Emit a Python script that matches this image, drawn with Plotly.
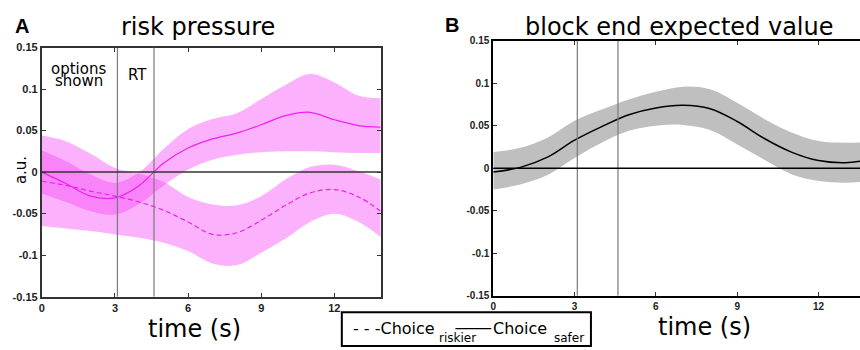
import plotly.graph_objects as go

# ---------------- data ----------------
time_s = [0, 1, 2, 3, 4, 5, 6, 7, 8, 9, 10, 11, 12, 13, 13.9]

# Panel A: risk pressure
safer_mean = [0.000, -0.014, -0.029, -0.031, -0.016, 0.011, 0.029, 0.040, 0.047, 0.057, 0.068, 0.072, 0.063, 0.056, 0.054]
safer_upper = [0.026, 0.013, -0.003, -0.013, 0.000, 0.028, 0.052, 0.064, 0.071, 0.088, 0.105, 0.118, 0.108, 0.092, 0.089]
safer_lower = [-0.026, -0.036, -0.047, -0.051, -0.038, -0.016, 0.003, 0.015, 0.021, 0.024, 0.025, 0.025, 0.024, 0.023, 0.023]

riskier_mean = [-0.011, -0.016, -0.023, -0.029, -0.036, -0.046, -0.060, -0.075, -0.073, -0.058, -0.040, -0.025, -0.021, -0.030, -0.047]
riskier_upper = [0.044, 0.037, 0.022, 0.005, -0.002, -0.012, -0.030, -0.039, -0.040, -0.029, -0.009, 0.006, 0.009, 0.001, -0.009]
riskier_lower = [-0.065, -0.068, -0.071, -0.075, -0.079, -0.085, -0.095, -0.110, -0.112, -0.097, -0.080, -0.060, -0.050, -0.060, -0.078]

# Panel B: block end expected value
ev_mean = [-0.0045, 0.001, 0.013, 0.033, 0.049, 0.063, 0.071, 0.074, 0.070, 0.055, 0.035, 0.019, 0.009, 0.0065, 0.010]
ev_upper = [0.019, 0.024, 0.036, 0.056, 0.069, 0.081, 0.090, 0.096, 0.093, 0.077, 0.058, 0.042, 0.032, 0.030, 0.031]
ev_lower = [-0.025, -0.019, -0.008, 0.012, 0.030, 0.044, 0.050, 0.051, 0.045, 0.028, 0.010, -0.007, -0.015, -0.017, -0.015]

event_times = [3.1, 4.6]          # options shown / RT markers
x_ticks = [0, 3, 6, 9, 12]
y_ticks = [0.15, 0.1, 0.05, 0, -0.05, -0.1, -0.15]
y_ticktext = ["0.15", "0.1", "0.05", "0", "-0.05", "-0.1", "-0.15"]

# ---------------- figure ----------------
W, H = 860, 350
def px(x):
    return x / W
def py(y):
    return 1 - y / H

PINK_FILL = "rgba(245,70,245,0.42)"
MAGENTA = "#f020f0"
GRAY_FILL = "rgb(191,191,191)"

fig = go.Figure()

def band(x, up, lo, color, xa, ya):
    fig.add_trace(go.Scatter(x=x, y=up, mode="lines", line=dict(width=0, shape="spline", smoothing=1.0),
                             xaxis=xa, yaxis=ya, hoverinfo="skip", showlegend=False))
    fig.add_trace(go.Scatter(x=x, y=lo, mode="lines", line=dict(width=0, shape="spline", smoothing=1.0),
                             fill="tonexty", fillcolor=color, xaxis=xa, yaxis=ya,
                             hoverinfo="skip", showlegend=False))

band(time_s, riskier_upper, riskier_lower, PINK_FILL, "x", "y")
band(time_s, safer_upper, safer_lower, PINK_FILL, "x", "y")
fig.add_trace(go.Scatter(x=time_s, y=riskier_mean, mode="lines", name="Choice riskier",
                         line=dict(color=MAGENTA, width=1.2, dash="5px,3px", shape="spline", smoothing=1.0),
                         xaxis="x", yaxis="y", showlegend=False))
fig.add_trace(go.Scatter(x=time_s, y=safer_mean, mode="lines", name="Choice safer",
                         line=dict(color=MAGENTA, width=1.2, shape="spline", smoothing=1.0),
                         xaxis="x", yaxis="y", showlegend=False))

band(time_s, ev_upper, ev_lower, GRAY_FILL, "x2", "y2")
fig.add_trace(go.Scatter(x=time_s, y=ev_mean, mode="lines",
                         line=dict(color="black", width=1.5, shape="spline", smoothing=1.0),
                         xaxis="x2", yaxis="y2", showlegend=False))

# reference lines
for xr, yr in (("x", "y"), ("x2", "y2")):
    for t in event_times:
        fig.add_shape(type="line", xref=xr, yref=yr, x0=t, x1=t, y0=-0.15, y1=0.15,
                      line=dict(color="#7a7a7a", width=1.2), layer="above")
    fig.add_shape(type="line", xref=xr, yref=yr, x0=0, x1=14, y0=0, y1=0,
                  line=dict(color="#333" if xr == "x" else "black", width=1.5), layer="above")

tickfontA = dict(family="Liberation Sans", size=11, color="#222", weight="bold")
tickfontB = dict(family="Liberation Sans", size=10, color="#222", weight="bold")

common_x = dict(tickvals=x_ticks, ticks="inside", ticklen=4, tickcolor="#333", showgrid=False,
                zeroline=False, showline=True, mirror="ticks")
common_y = dict(range=[-0.15, 0.15], tickvals=y_ticks, ticktext=y_ticktext, ticks="inside", ticklen=4,
                tickcolor="#333", showgrid=False, zeroline=False, showline=True)

fig.update_layout(
    width=W, height=H, margin=dict(l=0, r=0, t=0, b=0),
    paper_bgcolor="white", plot_bgcolor="white", showlegend=False,
    xaxis=dict(domain=[px(39), px(379)], range=[0, 13.9], anchor="y", tickfont=tickfontA,
               linecolor="#333", linewidth=2, **common_x),
    yaxis=dict(domain=[py(301), py(43)], anchor="x", tickfont=tickfontA, linecolor="#333",
               linewidth=2, mirror="ticks", **common_y),
    xaxis2=dict(domain=[px(492), 1.0], range=[0, 13.53], anchor="y2", tickfont=tickfontB,
                linecolor="black", linewidth=2, **common_x),
    yaxis2=dict(domain=[py(300), py(36)], anchor="x2", tickfont=tickfontB, linecolor="black",
                linewidth=2, mirror=False, **common_y),
)

FONT = "DejaVu Sans"
def note(text, x, y, size, bold=False, xanchor="center", angle=0):
    fig.add_annotation(text=text, x=px(x), y=py(y), xref="paper", yref="paper", showarrow=False,
                       xanchor=xanchor, yanchor="middle", textangle=angle,
                       font=dict(family=("Liberation Sans" if bold else FONT), size=size, color="black",
                                 weight=("bold" if bold else "normal")))

note("A", 19, 21, 20, bold=True)
note("risk pressure", 196, 22, 24)
note("B", 451, 20, 20, bold=True)
note("block end expected value", 678, 22, 24)
note("time (s)", 192, 334, 24)
note("time (s)", 704, 332, 24)
note("a.u.", 18, 170, 15, angle=-90)
note("options", 76, 65, 15)
note("shown", 76, 78, 15)
note("RT", 135, 71, 15)

# legend box
fig.add_shape(type="rect", xref="paper", yref="paper", x0=px(340), x1=px(590), y0=py(352), y1=py(317),
              line=dict(color="black", width=2), fillcolor="white", layer="above")
note("- - -Choice", 349, 334, 16, xanchor="left")
note("riskier", 436, 344, 12, xanchor="left")
fig.add_shape(type="line", xref="paper", yref="paper", x0=px(454), x1=px(490), y0=py(334), y1=py(334),
              line=dict(color="black", width=1.2), layer="above")
note("Choice", 490, 334, 16, xanchor="left")
note("safer", 551, 344, 12, xanchor="left")

fig.write_html("out.html", config={"displayModeBar": False},
               post_script="document.body.style.margin='0';")
